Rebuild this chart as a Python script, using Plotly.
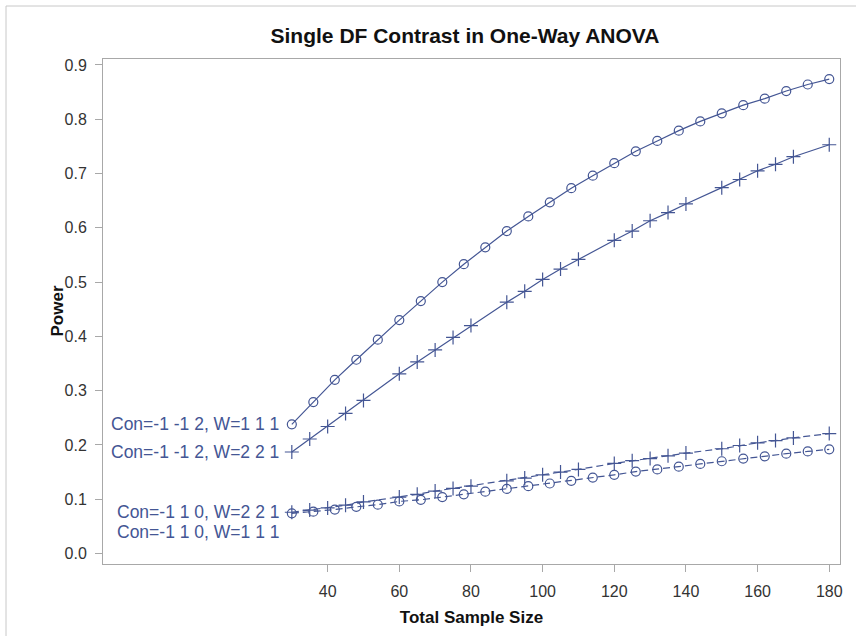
import plotly.graph_objects as go

# ---------------- data ----------------
n_w111 = [30, 36, 42, 48, 54, 60, 66, 72, 78, 84, 90, 96, 102, 108, 114,
          120, 126, 132, 138, 144, 150, 156, 162, 168, 174, 180]
n_w221 = [30, 35, 40, 45, 50, 60, 65, 70, 75, 80, 90, 95, 100, 105, 110,
          120, 125, 130, 135, 140, 150, 155, 160, 165, 170, 180]

power_c112_w111 = [0.238, 0.279, 0.320, 0.357, 0.394, 0.430, 0.465, 0.500, 0.533,
                   0.564, 0.594, 0.621, 0.647, 0.673, 0.696, 0.719, 0.741, 0.760,
                   0.779, 0.796, 0.811, 0.826, 0.838, 0.852, 0.864, 0.874]
power_c112_w221 = [0.187, 0.211, 0.234, 0.258, 0.282, 0.331, 0.353, 0.375, 0.398,
                   0.420, 0.463, 0.483, 0.505, 0.524, 0.542, 0.577, 0.594, 0.613,
                   0.628, 0.644, 0.674, 0.689, 0.705, 0.717, 0.731, 0.753]
power_c110_w221 = [0.076, 0.080, 0.084, 0.089, 0.095, 0.104, 0.109, 0.115, 0.120,
                   0.124, 0.134, 0.139, 0.145, 0.150, 0.155, 0.166, 0.171, 0.175,
                   0.180, 0.185, 0.193, 0.199, 0.204, 0.208, 0.213, 0.221]
power_c110_w111 = [0.074, 0.077, 0.081, 0.086, 0.090, 0.096, 0.099, 0.104, 0.109,
                   0.114, 0.119, 0.124, 0.129, 0.134, 0.140, 0.145, 0.151, 0.155,
                   0.160, 0.165, 0.170, 0.175, 0.179, 0.184, 0.188, 0.192]

series_labels = ["Con=-1 -1 2, W=1 1 1", "Con=-1 -1 2, W=2 2 1",
                 "Con=-1 1 0, W=2 2 1", "Con=-1 1 0, W=1 1 1"]
x_ticks = [40, 60, 80, 100, 120, 140, 160, 180]
y_ticks = [0.0, 0.1, 0.2, 0.3, 0.4, 0.5, 0.6, 0.7, 0.8, 0.9]

# ---------------- style ----------------
COL = "#445694"
FONT = "Liberation Sans, Arial, sans-serif"
W, H = 856, 636
ML, MR, MT, MB = 103, 16, 59, 72

series = [
    (n_w111, power_c112_w111, "circle-open", "solid", series_labels[0], 0),
    (n_w221, power_c112_w221, "cross-thin-open", "solid", series_labels[1], 0),
    (n_w221, power_c110_w221, "cross-thin-open", "7px,4px", series_labels[2], 0),
    (n_w111, power_c110_w111, "circle-open", "7px,4px", series_labels[3], -19),
]

fig = go.Figure()
annotations = []
for xs, ys, sym, dash, lab, ysh in series:
    fig.add_trace(go.Scatter(
        x=xs, y=ys, mode="lines+markers", name=lab, showlegend=False,
        line=dict(color=COL, width=1.2, dash=dash),
        marker=dict(symbol=sym, size=10 if "cross" in sym else 9,
                    color=COL, line=dict(color=COL, width=1.2)),
    ))
    annotations.append(dict(
        x=xs[0], y=ys[0], xref="x", yref="y", text=lab, showarrow=False,
        xanchor="right", yanchor="middle", xshift=-11, yshift=ysh,
        font=dict(family=FONT, size=17.5, color=COL),
    ))

pw = W - ML - MR
ph = H - MT - MB
def px_x(p):
    return (p - ML) / pw
def px_y(p):
    return (H - MB - p) / ph

# y-axis title as a rotated text label
annotations.append(dict(
    x=px_x(57), y=0.5, xref="paper", yref="paper", text="<b>Power</b>", showarrow=False,
    textangle=-90, xanchor="center", yanchor="middle",
    font=dict(family=FONT, size=17, color="#111111"),
))

shapes = [
    dict(type="line", xref="paper", yref="paper", x0=px_x(6), x1=px_x(W), y0=px_y(6), y1=px_y(6),
         line=dict(color="#c8c8c8", width=1)),
    dict(type="line", xref="paper", yref="paper", x0=px_x(6), x1=px_x(6), y0=px_y(6), y1=px_y(H),
         line=dict(color="#c8c8c8", width=1)),
]

fig.update_layout(
    width=W, height=H,
    margin=dict(l=ML, r=MR, t=MT, b=MB, pad=0),
    paper_bgcolor="white", plot_bgcolor="white",
    font=dict(family=FONT, color="#222222"),
    title=dict(text="<b>Single DF Contrast in One-Way ANOVA</b>", x=465 / W, xref="container",
               xanchor="center", y=1 - 36 / H, yref="container", yanchor="middle",
               font=dict(family=FONT, size=21, color="#111111")),
    annotations=annotations,
    shapes=shapes,
)
fig.update_xaxes(
    range=[-22.7, 183.0], tickvals=x_ticks, ticktext=[str(v) for v in x_ticks],
    showgrid=False, zeroline=False, showline=True, mirror=True,
    linecolor="#a8a8a8", linewidth=1, ticks="outside", ticklen=7, tickcolor="#a8a8a8",
    ticklabelstandoff=6,
    tickfont=dict(family=FONT, size=16, color="#333333"),
    title=dict(text="<b>Total Sample Size</b>", standoff=11,
               font=dict(family=FONT, size=17, color="#111111")),
)
fig.update_yaxes(
    range=[-0.0193, 0.911], tickvals=y_ticks, ticktext=[f"{v:.1f}" for v in y_ticks],
    showgrid=False, zeroline=False, showline=True, mirror=True,
    linecolor="#a8a8a8", linewidth=1, ticks="outside", ticklen=7, tickcolor="#a8a8a8",
    ticklabelstandoff=5,
    tickfont=dict(family=FONT, size=16, color="#333333"),
)

fig.write_html("out.html", config={"displayModeBar": False},
               post_script="document.body.style.margin='0';document.body.style.overflow='hidden';")
